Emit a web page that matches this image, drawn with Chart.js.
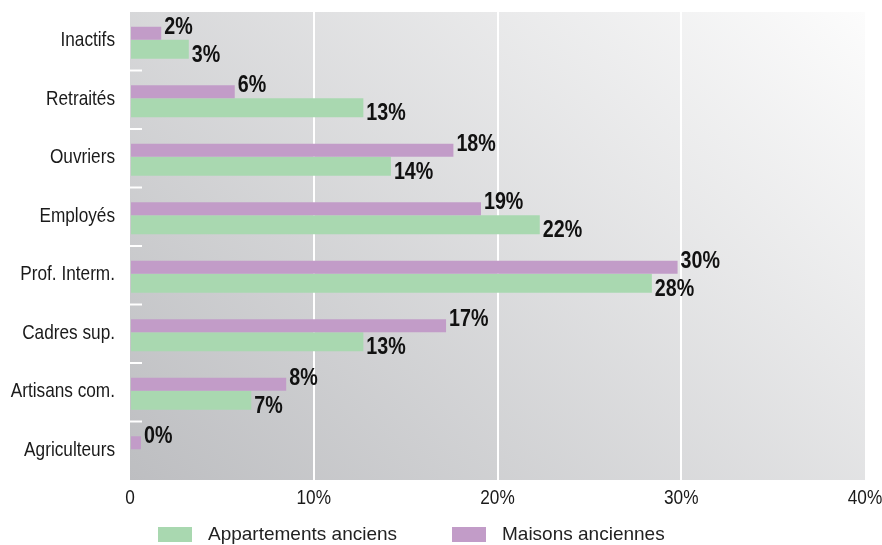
<!DOCTYPE html>
<html>
<head>
<meta charset="utf-8">
<script src="https://cdn.jsdelivr.net/npm/chart.js@4"></script>
<style>
  body { margin: 0; background: #fff; }
  #wrap { position: relative; width: 882px; height: 545px; }
  #legend { position: absolute; left: 0; top: 523px; width: 882px; height: 22px;
            font-family: 'Liberation Sans', Arial, sans-serif; font-size: 19px; color: #222; }
  .leg-item { position: absolute; top: 0; height: 22px; line-height: 22px; display: flex; align-items: center; white-space: nowrap; }
  .leg-box { width: 34px; height: 15px; margin-right: 16px; }
</style>
</head>
<body>
<div id="wrap">
  <canvas id="chart" width="882" height="545"></canvas>
  <div id="legend"></div>
</div>
<script>
const categories = ['Inactifs', 'Retraités', 'Ouvriers', 'Employés', 'Prof. Interm.', 'Cadres sup.', 'Artisans com.', 'Agriculteurs'];
const maisons = [1.7, 5.7, 17.6, 19.1, 29.8, 17.2, 8.5, 0.6];
const appartements = [3.2, 12.7, 14.2, 22.3, 28.4, 12.7, 6.6, 0];
const maisonsLabels = ['2%', '6%', '18%', '19%', '30%', '17%', '8%', '0%'];
const appartementsLabels = ['3%', '13%', '14%', '22%', '28%', '13%', '7%', ''];
const xTickValues = [0, 10, 20, 30, 40];
const xTickLabels = ['0', '10%', '20%', '30%', '40%'];

const GREEN = '#a9d8b0';
const PURPLE = '#c29cc8';
const SANS = "'Liberation Sans', Arial, sans-serif";
const NARROW = 0.82; // no narrow font installed, so squeeze Liberation Sans

function narrowText(ctx, txt, x, y, align) {
    ctx.save();
    ctx.translate(x, y);
    ctx.scale(NARROW, 1);
    ctx.textAlign = align;
    ctx.fillText(txt, 0, 0);
    ctx.restore();
}

// gradient grey behind the bars
const plotBackground = {
    id: 'plotBackground',
    beforeDraw(chart) {
        const { ctx, chartArea: a } = chart;
        const g = ctx.createLinearGradient(a.left, a.bottom, a.left + 568, a.bottom - 620);
        g.addColorStop(0, '#bdbec1');
        g.addColorStop(1, '#fcfcfc');
        ctx.save();
        ctx.fillStyle = g;
        ctx.fillRect(a.left, a.top, a.right - a.left, a.bottom - a.top);
        ctx.restore();
    }
};

// short white marks between categories, on the left edge
const categoryMarks = {
    id: 'categoryMarks',
    beforeDatasetsDraw(chart) {
        const { ctx, chartArea: a, scales: { y } } = chart;
        ctx.save();
        ctx.strokeStyle = '#ffffff';
        ctx.lineWidth = 2;
        for (let i = 0; i < categories.length - 1; i++) {
            const yy = (y.getPixelForValue(i) + y.getPixelForValue(i + 1)) / 2;
            ctx.beginPath();
            ctx.moveTo(a.left, yy);
            ctx.lineTo(a.left + 12, yy);
            ctx.stroke();
        }
        ctx.restore();
    }
};

// axis labels, drawn condensed
const axisText = {
    id: 'axisText',
    afterDraw(chart) {
        const { ctx, chartArea: a, scales: { x, y } } = chart;
        ctx.save();
        ctx.fillStyle = '#1a1a1a';
        ctx.textBaseline = 'middle';
        ctx.font = '21px ' + SANS;
        categories.forEach((c, i) => narrowText(ctx, c, a.left - 15, y.getPixelForValue(i) - 1, 'right'));
        xTickValues.forEach((v, i) => narrowText(ctx, xTickLabels[i], x.getPixelForValue(v), a.bottom + 18, 'center'));
        ctx.restore();
    }
};

// bold percentage next to each bar
const valueLabels = {
    id: 'valueLabels',
    afterDatasetsDraw(chart) {
        const { ctx } = chart;
        ctx.save();
        ctx.font = 'bold 24px ' + SANS;
        ctx.fillStyle = '#111';
        ctx.textBaseline = 'middle';
        chart.data.datasets.forEach((ds, di) => {
            const meta = chart.getDatasetMeta(di);
            meta.data.forEach((bar, i) => {
                const txt = ds.valueText[i];
                if (!txt) return;
                narrowText(ctx, txt, bar.x + 3, bar.y + ds.labelShift, 'left');
            });
        });
        ctx.restore();
    }
};

const chart = new Chart(document.getElementById('chart'), {
    type: 'bar',
    data: {
        labels: categories,
        datasets: [
            {
                label: 'Maisons anciennes',
                data: maisons,
                backgroundColor: PURPLE,
                categoryPercentage: 0.547,
                barPercentage: 0.8125,
                valueText: maisonsLabels,
                labelShift: -6
            },
            {
                label: 'Appartements anciens',
                data: appartements,
                backgroundColor: GREEN,
                categoryPercentage: 0.547,
                barPercentage: 1.1875,
                valueText: appartementsLabels,
                labelShift: 6
            }
        ]
    },
    options: {
        indexAxis: 'y',
        responsive: false,
        animation: false,
        layout: { padding: { top: 12, right: 17, bottom: 65, left: 0 } },
        plugins: {
            legend: { display: false },
            tooltip: { enabled: false }
        },
        scales: {
            x: {
                min: 0,
                max: 40,
                ticks: { stepSize: 10, display: false },
                grid: {
                    drawTicks: false,
                    lineWidth: 2,
                    color: c => (c.tick.value === 0 || c.tick.value === 40) ? 'rgba(0,0,0,0)' : '#ffffff'
                },
                border: { display: false }
            },
            y: {
                afterFit: s => { s.width = 130; },
                ticks: { display: false },
                grid: { display: false, drawTicks: false },
                border: { display: false }
            }
        }
    },
    plugins: [plotBackground, categoryMarks, valueLabels, axisText]
});

// legend: green first, then purple
const legend = document.getElementById('legend');
const legendLeft = [158, 452];
chart.data.datasets.slice().reverse().forEach((ds, i) => {
    const item = document.createElement('div');
    item.className = 'leg-item';
    item.style.left = legendLeft[i] + 'px';
    item.innerHTML = `<div class="leg-box" style="background:${ds.backgroundColor}"></div><span>${ds.label}</span>`;
    legend.appendChild(item);
});
</script>
</body>
</html>
